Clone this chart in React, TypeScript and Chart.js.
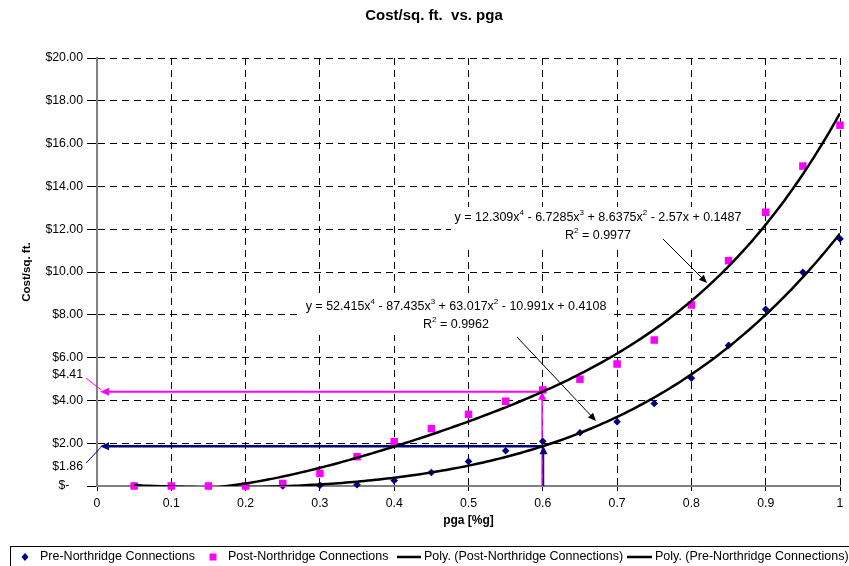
import React, { useEffect, useRef } from "react";
import { Chart, registerables } from "chart.js";

Chart.register(...registerables);

// ---------- data ----------
const pgaValues = [0.05, 0.1, 0.15, 0.2, 0.25, 0.3, 0.35, 0.4, 0.45, 0.5, 0.55, 0.6, 0.65, 0.7, 0.75, 0.8, 0.85, 0.9, 0.95, 1.0];
const preNorthridgeCost = [0, 0, 0, 0, 0, 0.03, 0.06, 0.26, 0.63, 1.15, 1.65, 2.09, 2.49, 3.0, 3.86, 5.04, 6.57, 8.26, 9.99, 11.55];
const postNorthridgeCost = [0, 0, 0, 0, 0.12, 0.59, 1.37, 2.07, 2.68, 3.35, 3.96, 4.49, 4.99, 5.7, 6.82, 8.46, 10.53, 12.79, 14.95, 16.86];

// trendline coefficients printed on the chart (constant, x, x^2, x^3, x^4)
const prePolyCoefficients = [0.1487, -2.57, 8.6375, -6.7285, 12.309];
const postPolyCoefficients = [0.4108, -10.991, 63.017, -87.435, 52.415];
const preR2 = "0.9977";
const postR2 = "0.9962";

// read-off values marked on the chart
const readPga = 0.6;
const readPreCost = 1.86;
const readPostCost = 4.41;

const xMin = 0;
const xMax = 1;
const xStep = 0.1;
const yMin = 0;
const yMax = 20;
const yStep = 2;

const seriesNames = [
  "Pre-Northridge Connections",
  "Post-Northridge Connections",
  "Poly. (Post-Northridge Connections)",
  "Poly. (Pre-Northridge Connections)",
];
const chartTitle = "Cost/sq. ft.  vs. pga";
const xAxisTitle = "pga [%g]";
const yAxisTitle = "Cost/sq. ft.";

// ---------- helpers ----------
const FAM = '"Liberation Sans", Arial, Helvetica, sans-serif';
const NAVY = "#000080";
const MAGENTA = "#FF00FF";

const polyValue = (c: number[], x: number) =>
  c.reduce((s, a, i) => s + a * Math.pow(x, i), 0);

const trendPoints = (c: number[]) => {
  const pts: { x: number; y: number }[] = [];
  const lo = pgaValues[0];
  const hi = pgaValues[pgaValues.length - 1];
  const n = 190;
  for (let i = 0; i <= n; i++) {
    const x = lo + ((hi - lo) * i) / n;
    pts.push({ x, y: polyValue(c, x) });
  }
  return pts;
};

type Seg = [string, boolean];
const equationSegments = (c: number[]): Seg[] => {
  const segs: Seg[] = [];
  let cur = "y = ";
  for (let p = c.length - 1; p >= 0; p--) {
    const v = c[p];
    const abs = String(Math.abs(v));
    if (p === c.length - 1) cur += (v < 0 ? "-" : "") + abs;
    else cur += (v < 0 ? " - " : " + ") + abs;
    if (p >= 1) cur += "x";
    if (p >= 2) {
      segs.push([cur, false]);
      segs.push([String(p), true]);
      cur = "";
    }
  }
  if (cur) segs.push([cur, false]);
  return segs;
};
const r2Segments = (r: string): Seg[] => [["R", false], ["2", true], [" = " + r, false]];

function drawSegs(ctx: CanvasRenderingContext2D, segs: Seg[], cx: number, cy: number) {
  const main = `12.5px ${FAM}`;
  const sup = `8px ${FAM}`;
  let total = 0;
  for (const [t, s] of segs) {
    ctx.font = s ? sup : main;
    total += ctx.measureText(t).width;
  }
  let x = cx - total / 2;
  ctx.textAlign = "left";
  ctx.textBaseline = "middle";
  ctx.fillStyle = "#000";
  for (const [t, s] of segs) {
    ctx.font = s ? sup : main;
    ctx.fillText(t, x, s ? cy - 5 : cy);
    x += ctx.measureText(t).width;
  }
}

function arrow(
  ctx: CanvasRenderingContext2D,
  x1: number, y1: number, x2: number, y2: number,
  color: string, width: number, headLen: number, headHalf: number
) {
  const dx = x2 - x1;
  const dy = y2 - y1;
  const len = Math.hypot(dx, dy);
  const ux = dx / len;
  const uy = dy / len;
  const bx = x2 - ux * headLen;
  const by = y2 - uy * headLen;
  ctx.save();
  ctx.strokeStyle = color;
  ctx.fillStyle = color;
  ctx.lineWidth = width;
  ctx.setLineDash([]);
  ctx.beginPath();
  ctx.moveTo(x1, y1);
  ctx.lineTo(x2 - ux * headLen * 0.6, y2 - uy * headLen * 0.6);
  ctx.stroke();
  ctx.beginPath();
  ctx.moveTo(x2, y2);
  ctx.lineTo(bx - uy * headHalf, by + ux * headHalf);
  ctx.lineTo(bx + uy * headHalf, by - ux * headHalf);
  ctx.closePath();
  ctx.fill();
  ctx.restore();
}

function line(ctx: CanvasRenderingContext2D, x1: number, y1: number, x2: number, y2: number, color: string, width: number) {
  ctx.save();
  ctx.strokeStyle = color;
  ctx.lineWidth = width;
  ctx.beginPath();
  ctx.moveTo(x1, y1);
  ctx.lineTo(x2, y2);
  ctx.stroke();
  ctx.restore();
}

const overlayPlugin = {
  id: "overlay",
  beforeDatasetsDraw(chart: any) {
    const ctx: CanvasRenderingContext2D = chart.ctx;
    const xs = chart.scales.x;
    const ys = chart.scales.y;
    const xr = xs.getPixelForValue(readPga);
    const x0 = xs.getPixelForValue(xMin);
    const yb = ys.getPixelForValue(yMin);
    const yPost = ys.getPixelForValue(readPostCost);
    const yPre = ys.getPixelForValue(readPreCost);
    // magenta read-off
    arrow(ctx, xr, yPost, x0 + 3, yPost, MAGENTA, 2, 9, 4);
    arrow(ctx, xr - 0.7, yb, xr - 0.7, yPost, MAGENTA, 1.5, 8, 4);
    // navy read-off
    arrow(ctx, xr, yPre, x0 + 3, yPre, NAVY, 2.5, 9, 4);
    arrow(ctx, xr + 0.7, yb, xr + 0.7, yPre, NAVY, 1.5, 8, 4);
  },
  afterDatasetsDraw(chart: any) {
    const ctx: CanvasRenderingContext2D = chart.ctx;
    // equation label boxes (white, hide the grid)
    ctx.save();
    ctx.fillStyle = "#fff";
    ctx.fillRect(451, 207, 291, 40);
    ctx.fillRect(302, 297, 308, 38);
    ctx.restore();
    drawSegs(ctx, equationSegments(prePolyCoefficients), 598, 218);
    drawSegs(ctx, r2Segments(preR2), 598, 236);
    drawSegs(ctx, equationSegments(postPolyCoefficients), 456, 307);
    drawSegs(ctx, r2Segments(postR2), 456, 325);
    arrow(ctx, 663, 239, 707, 283, "#000", 1, 8, 3.5);
    arrow(ctx, 517, 337, 596, 421, "#000", 1, 8, 3.5);
  },
  afterDraw(chart: any) {
    const ctx: CanvasRenderingContext2D = chart.ctx;
    const xs = chart.scales.x;
    const ys = chart.scales.y;
    const x0 = xs.getPixelForValue(xMin);
    const yPost = ys.getPixelForValue(readPostCost);
    const yPre = ys.getPixelForValue(readPreCost);
    ctx.save();
    // title
    ctx.fillStyle = "#000";
    ctx.textAlign = "center";
    ctx.textBaseline = "middle";
    ctx.font = `bold 15px ${FAM}`;
    ctx.fillText(chartTitle, 434, 16);
    // x axis title
    ctx.font = `bold 12px ${FAM}`;
    ctx.fillText(xAxisTitle, (chart.chartArea.left + chart.chartArea.right) / 2, 521);
    // y axis title
    ctx.save();
    ctx.translate(27, (chart.chartArea.top + chart.chartArea.bottom) / 2);
    ctx.rotate(-Math.PI / 2);
    ctx.font = `bold 11.5px ${FAM}`;
    ctx.fillText(yAxisTitle, 0, 0);
    ctx.restore();
    // read-off value labels
    ctx.font = `12.3px ${FAM}`;
    ctx.textAlign = "right";
    ctx.fillText("$" + readPostCost.toFixed(2), 83, yPost - 17.5);
    ctx.fillText("$" + readPreCost.toFixed(2), 83, yPre + 20.5);
    line(ctx, x0 - 11, yPost - 13.5, x0 + 4, yPost - 2, MAGENTA, 1);
    line(ctx, x0 - 11, yPre + 17, x0 + 4, yPre + 1, NAVY, 1);

    // legend
    const ly = 557;
    ctx.strokeStyle = "#000";
    ctx.lineWidth = 1;
    ctx.strokeRect(10.5, 546.5, 900, 40);
    ctx.font = `12.5px ${FAM}`;
    ctx.textAlign = "left";
    ctx.textBaseline = "middle";
    // diamond
    ctx.fillStyle = NAVY;
    ctx.beginPath();
    ctx.moveTo(25, ly - 4);
    ctx.lineTo(28.5, ly);
    ctx.lineTo(25, ly + 4);
    ctx.lineTo(21.5, ly);
    ctx.closePath();
    ctx.fill();
    ctx.fillStyle = "#000";
    ctx.fillText(seriesNames[0], 40, ly);
    // square
    ctx.fillStyle = MAGENTA;
    ctx.fillRect(209.5, ly - 3.5, 7, 7);
    ctx.fillStyle = "#000";
    ctx.fillText(seriesNames[1], 228, ly);
    // lines
    line(ctx, 397, ly, 421, ly, "#000", 2.5);
    ctx.fillText(seriesNames[2], 424, ly);
    line(ctx, 627, ly, 652, ly, "#000", 2.5);
    ctx.fillText(seriesNames[3], 655, ly);
    ctx.restore();
  },
};

export default function App() {
  const ref = useRef<HTMLCanvasElement>(null);
  useEffect(() => {
    document.body.style.margin = "0";
    const canvas = ref.current!;
    const prePts = pgaValues.map((x, i) => ({ x, y: preNorthridgeCost[i] }));
    const postPts = pgaValues.map((x, i) => ({ x, y: postNorthridgeCost[i] }));
    const tickFont = { family: FAM, size: 12.3 };
    const chart = new Chart(canvas, {
      type: "scatter",
      data: {
        datasets: [
          {
            label: seriesNames[2],
            data: trendPoints(postPolyCoefficients),
            showLine: true,
            borderColor: "#000",
            borderWidth: 2.5,
            pointRadius: 0,
            fill: false,
            order: 0,
          },
          {
            label: seriesNames[3],
            data: trendPoints(prePolyCoefficients),
            showLine: true,
            borderColor: "#000",
            borderWidth: 2.5,
            pointRadius: 0,
            fill: false,
            order: 0,
          },
          {
            label: seriesNames[1],
            data: postPts,
            pointStyle: "rect",
            pointRadius: 5.3,
            backgroundColor: MAGENTA,
            borderWidth: 0,
            clip: false,
            order: 1,
          },
          {
            label: seriesNames[0],
            data: prePts,
            pointStyle: "rectRot",
            pointRadius: 3.8,
            backgroundColor: NAVY,
            borderWidth: 0,
            clip: false,
            order: 2,
          },
        ],
      } as any,
      options: {
        responsive: false,
        animation: false,
        devicePixelRatio: 1,
        layout: { padding: { left: 0, right: 9, top: 58, bottom: 0 } },
        plugins: {
          legend: { display: false },
          title: { display: false },
          tooltip: { enabled: false },
        },
        scales: {
          x: {
            type: "linear",
            min: xMin,
            max: xMax,
            afterFit: (s: any) => {
              s.height = 80;
            },
            ticks: {
              stepSize: xStep,
              color: "#000",
              font: tickFont,
              padding: 5,
              maxRotation: 0,
              autoSkip: false,
              callback: (v: any) => String(Math.round(Number(v) * 10) / 10),
            },
            grid: {
              color: "#000",
              lineWidth: 1,
              tickLength: 5,
              tickColor: "#000",
              tickWidth: 1,
            },
            border: { display: true, color: "#808080", width: 2, dash: [7, 5] },
          },
          y: {
            type: "linear",
            min: yMin,
            max: yMax,
            afterFit: (s: any) => {
              s.width = 97;
            },
            ticks: {
              stepSize: yStep,
              color: "#000",
              font: tickFont,
              padding: 4,
              callback: (v: any) => (Number(v) === 0 ? "$-    " : "$" + Number(v).toFixed(2)),
            },
            grid: {
              color: "#000",
              lineWidth: 1,
              tickLength: 10,
              tickColor: "#000",
              tickWidth: 1,
            },
            border: { display: true, color: "#808080", width: 2, dash: [7, 5] },
          },
        },
      } as any,
      plugins: [overlayPlugin],
    });
    return () => chart.destroy();
  }, []);
  return (
    <canvas
      ref={ref}
      width={849}
      height={566}
      style={{ display: "block", width: "849px", height: "566px" }}
    />
  );
}
